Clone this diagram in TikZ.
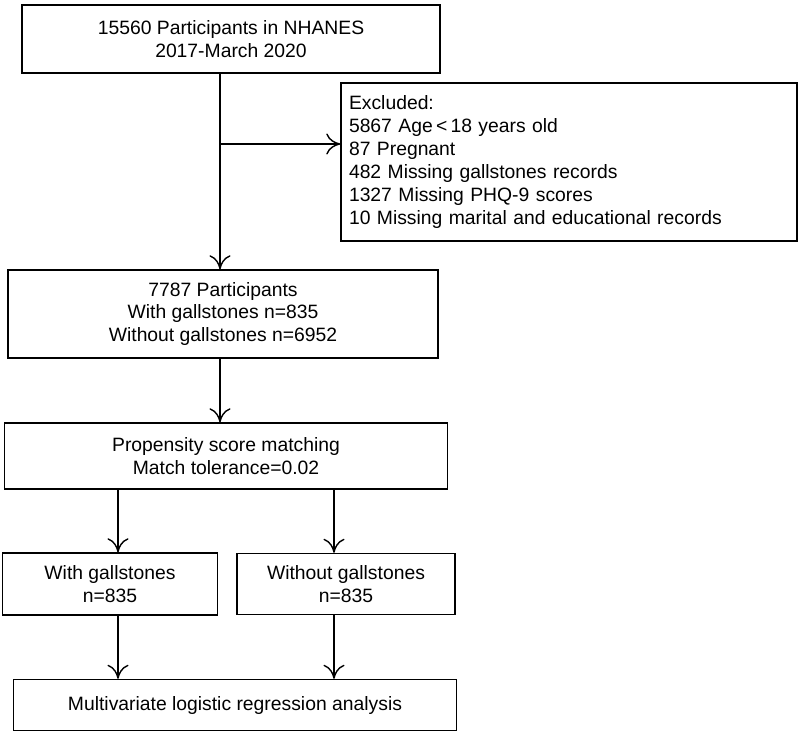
\documentclass[tikz,border=0pt]{standalone}
\usepackage{fontspec}
\setmainfont{Liberation Sans}
\usetikzlibrary{positioning,arrows.meta}
\tikzset{
  flowbox/.style={draw, thick, align=center, inner sep=0pt, font=\fontsize{11}{13}\selectfont},
  flowarrow/.style={-{To[length=8pt,width=12pt,open]}, thick}
}
\begin{document}
\begin{tikzpicture}[x=0.02cm, y=-0.02cm]
    \useasboundingbox (0,0) rectangle (800,739);
    % boxes
    \node[flowbox, minimum width=418*0.02cm, minimum height=68*0.02cm] (total) at (231,39) {15560 Participants in NHANES\\2017-March 2020};
    \node[flowbox, minimum width=456*0.02cm, minimum height=158*0.02cm, align=left, text width=440*0.02cm] (excl) at (569,162) {Excluded:\\5867 Age\,<\,18 years old\\87 Pregnant\\482 Missing gallstones records\\1327 Missing PHQ-9 scores\\10 Missing marital and educational records};
    \node[flowbox, minimum width=430*0.02cm, minimum height=88*0.02cm] (sample) at (223,314) {7787 Participants\\With gallstones n=835\\Without gallstones n=6952};
    \node[flowbox, minimum width=443*0.02cm, minimum height=66*0.02cm] (psm) at (226,456) {Propensity score matching\\Match tolerance=0.02};
    \node[flowbox, minimum width=215*0.02cm, minimum height=62*0.02cm] (with) at (110,584) {With gallstones\\n=835};
    \node[flowbox, minimum width=218*0.02cm, minimum height=61*0.02cm] (without) at (346,584) {Without gallstones\\n=835};
    \node[flowbox, minimum width=443*0.02cm, minimum height=51*0.02cm] (multi) at (235,705) {Multivariate logistic regression analysis};

    % arrows
    \coordinate (branch) at (220,144);
    \coordinate (lx) at (118,0);
    \coordinate (rx) at (334,0);
    \draw[flowarrow] (total.south -| branch) -- (sample.north -| branch);
    \draw[flowarrow] (branch) -- (branch -| excl.west);
    \draw[flowarrow] (sample.south -| branch) -- (psm.north -| branch);
    \draw[flowarrow] (psm.south -| lx) -- (with.north -| lx);
    \draw[flowarrow] (psm.south -| rx) -- (without.north -| rx);
    \draw[flowarrow] (with.south -| lx) -- (multi.north -| lx);
    \draw[flowarrow] (without.south -| rx) -- (multi.north -| rx);
\end{tikzpicture}
\end{document}
